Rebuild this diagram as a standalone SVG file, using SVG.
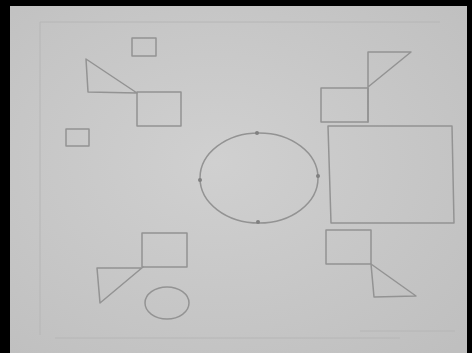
<svg xmlns="http://www.w3.org/2000/svg" width="472" height="353" viewBox="0 0 472 353">
<defs>
<radialGradient id="paper" cx="0.45" cy="0.45" r="0.75">
<stop offset="0" stop-color="#d0d0d0"/>
<stop offset="1" stop-color="#bfbfbf"/>
</radialGradient>
<style>
.s{fill:none;stroke:#939393;stroke-width:1.5;stroke-linejoin:round;stroke-linecap:round}
.f{fill:none;stroke:#b6b6b6;stroke-width:1}
.d{fill:#808080}
</style>
</defs>
<rect width="472" height="353" fill="#000"/>
<rect x="10" y="6" width="457" height="347" fill="url(#paper)"/>
<path class="f" d="M40 22 H440 M40 22 V335 M55 338 H400 M360 331 H455"/>
<g id="shapes">
<rect class="s" x="132" y="38" width="24" height="18"/>
<path class="s" d="M86 59 L88 92 L137 93 Z"/>
<rect class="s" x="137" y="92" width="44" height="34"/>
<rect class="s" x="66" y="129" width="23" height="17"/>
<path class="s" d="M368 52 L411 52 L368 87 M368 52 V122"/>
<rect class="s" x="321" y="88" width="47" height="34"/>
<path class="s" d="M328 126 L452 126 L454 223 L331 223 Z"/>
<ellipse class="s" cx="259" cy="178" rx="59" ry="45"/>
<rect class="s" x="326" y="230" width="45" height="34"/>
<path class="s" d="M371 264 L374 297 L416 296 Z"/>
<rect class="s" x="142" y="233" width="45" height="34"/>
<path class="s" d="M97 268 L141 268 M97 268 L100 303 L143 267"/>
<ellipse class="s" cx="167" cy="303" rx="22" ry="16"/>
</g>
<g class="d">
<circle cx="257" cy="133" r="2"/><circle cx="200" cy="180" r="2"/><circle cx="318" cy="176" r="2"/><circle cx="258" cy="222" r="2"/>
</g>
</svg>
